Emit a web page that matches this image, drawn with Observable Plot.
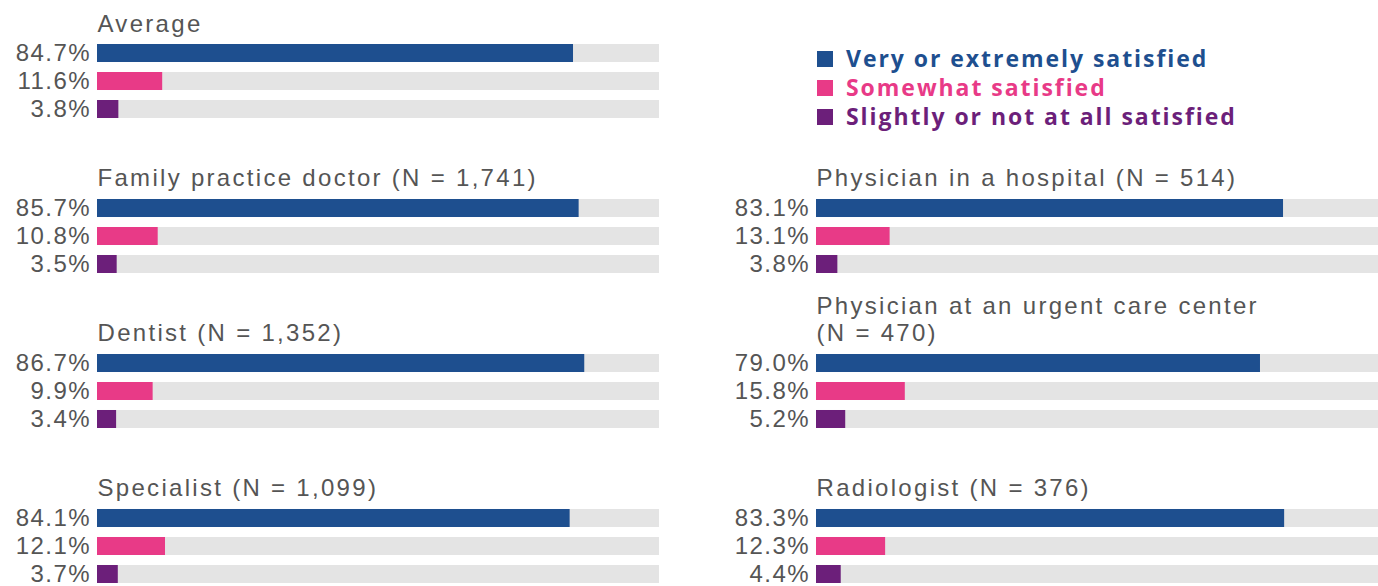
<!DOCTYPE html>
<html>
<head>
<meta charset="utf-8">
<script src="https://cdn.jsdelivr.net/npm/d3@7"></script>
<script src="https://cdn.jsdelivr.net/npm/@observablehq/plot@0.6"></script>
<style>
  html, body { margin: 0; padding: 0; background: #fff; overflow: hidden; }
  #wrap { position: relative; width: 1378px; height: 586px; }
  #legend { position: absolute; left: 817px; top: 44px; font-family: "Open Sans", sans-serif; font-weight: 700; font-size: 23px; line-height: 29px; letter-spacing: 1.95px; }
  #legend .item { display: flex; align-items: center; white-space: nowrap; }
  #legend .sw { width: 16px; height: 16px; margin-right: 13px; flex: none; }
</style>
</head>
<body>
<div id="wrap"><div id="legend"></div></div>
<script>
const panels = [
  "Average",
  "Family practice doctor (N = 1,741)",
  "Dentist (N = 1,352)",
  "Specialist (N = 1,099)",
  "Physician in a hospital (N = 514)",
  "Physician at an urgent care center\n(N = 470)",
  "Radiologist (N = 376)"
];
const panelColumn = ["left", "left", "left", "left", "right", "right", "right"];
const panelRow = [0, 1, 2, 3, 1, 2, 3];
const seriesNames = ["Very or extremely satisfied", "Somewhat satisfied", "Slightly or not at all satisfied"];
const seriesColors = ["#1e4f8f", "#e83a87", "#6c1f7a"];
const veryValues = [84.7, 85.7, 86.7, 84.1, 83.1, 79.0, 83.3];
const somewhatValues = [11.6, 10.8, 9.9, 12.1, 13.1, 15.8, 12.3];
const slightlyValues = [3.8, 3.5, 3.4, 3.7, 3.8, 5.2, 4.4];

const seriesValues = [veryValues, somewhatValues, slightlyValues];
const rows = [];
panels.forEach((p, i) => {
  seriesNames.forEach((s, j) => {
    rows.push({panel: p, col: panelColumn[i], row: panelRow[i], series: s, value: seriesValues[j][i]});
  });
});
const titles = panels.map((p, i) => ({title: p, col: panelColumn[i], row: panelRow[i]}));

const textColor = "#555555";
const font = "'Liberation Sans', Arial, sans-serif";

const chart = Plot.plot({
  width: 1378,
  height: 586,
  marginLeft: 97,
  marginRight: 0,
  marginTop: 4,
  marginBottom: 3,
  style: {fontFamily: font, background: "#fff"},
  fx: {domain: ["left", "right"], paddingInner: 0.21836, paddingOuter: 0, round: false, axis: null},
  fy: {domain: [0, 1, 2, 3], paddingInner: 0.2645, paddingOuter: 0, round: false, axis: null},
  x: {domain: [0, 100], axis: null},
  y: {domain: seriesNames, axis: null, insetTop: 40, paddingInner: 0.357, paddingOuter: 0, round: false},
  color: {domain: seriesNames, range: seriesColors},
  marks: [
    Plot.barX(rows, {x1: 0, x2: 100, y: "series", fx: "col", fy: "row", fill: "#e4e4e4"}),
    Plot.barX(rows, {x1: 0, x2: "value", y: "series", fx: "col", fy: "row", fill: "series"}),
    Plot.text(rows, {x: 0, y: "series", fx: "col", fy: "row", text: d => d.value.toFixed(1) + "%", textAnchor: "end", dx: -6.6, fontSize: 24, fill: textColor}),
    Plot.text(titles, {fx: "col", fy: "row", text: "title", frameAnchor: "top-left", textAnchor: "start", lineAnchor: "bottom", dy: 27, fontSize: 24, lineHeight: 1.15, fill: textColor})
  ]
});
chart.querySelectorAll("text").forEach(t => {
  const s = t.textContent.trim();
  t.style.letterSpacing = s.endsWith("%") ? "1.4px" : "2.3px";
});
document.getElementById("wrap").prepend(chart);

const legend = document.getElementById("legend");
seriesNames.forEach((s, i) => {
  const item = document.createElement("div");
  item.className = "item";
  item.style.color = seriesColors[i];
  const sw = document.createElement("span");
  sw.className = "sw";
  sw.style.background = seriesColors[i];
  item.appendChild(sw);
  item.appendChild(document.createTextNode(s));
  legend.appendChild(item);
});
</script>
</body>
</html>
